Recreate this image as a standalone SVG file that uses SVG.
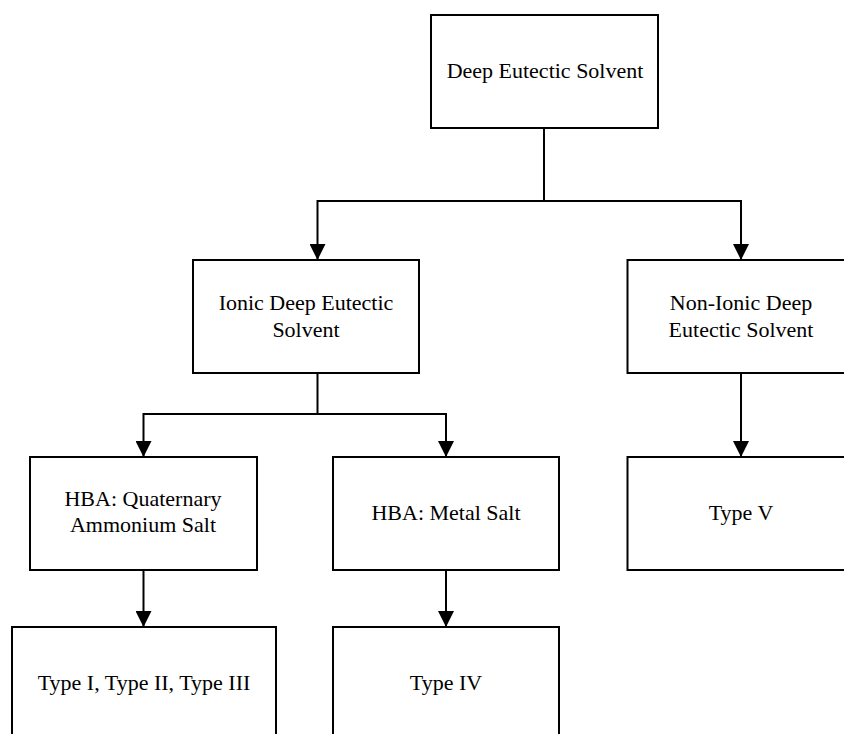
<svg xmlns="http://www.w3.org/2000/svg" width="844" height="734" viewBox="0 0 844 734">
  <style>
    .box { fill: #ffffff; stroke: #000000; stroke-width: 2; }
    .lbl { font-family: "Liberation Serif", "Times New Roman", serif; font-size: 22px; fill: #000000; text-anchor: middle; }
    .link { fill: none; stroke: #000000; stroke-width: 2; marker-end: url(#arrow); }
  </style>
  <defs>
    <marker id="arrow" markerUnits="userSpaceOnUse" viewBox="0 0 16 16" markerWidth="16" markerHeight="16" refX="16" refY="8" orient="auto">
      <path d="M0,0 L16,8 L0,16 z" fill="#000000"/>
    </marker>
  </defs>
  <rect width="844" height="734" fill="#ffffff"/>

  <g id="connectors">
    <path class="link" d="M544,128 V201 H317.5 V260"/>
    <path class="link" d="M544,201 H741 V260"/>
    <path class="link" d="M317.5,373 V414 H143.5 V457"/>
    <path class="link" d="M317.5,414 H446 V457"/>
    <path class="link" d="M741,373 V457"/>
    <path class="link" d="M143.5,570 V627"/>
    <path class="link" d="M446,570 V627"/>
  </g>

  <g id="des">
    <rect class="box" x="431" y="15" width="227" height="113"/>
    <text class="lbl" x="545" y="78">Deep Eutectic Solvent</text>
  </g>

  <g id="ionic-des">
    <rect class="box" x="193" y="260" width="226" height="113"/>
    <text class="lbl" x="306" y="310">Ionic Deep Eutectic</text>
    <text class="lbl" x="306" y="336.5">Solvent</text>
  </g>

  <g id="non-ionic-des">
    <rect class="box" x="627.5" y="260" width="227" height="113"/>
    <text class="lbl" x="741" y="310">Non-Ionic Deep</text>
    <text class="lbl" x="741" y="336.5">Eutectic Solvent</text>
  </g>

  <g id="hba-quaternary">
    <rect class="box" x="30" y="457" width="227" height="113"/>
    <text class="lbl" x="143" y="505.5">HBA: Quaternary</text>
    <text class="lbl" x="143" y="531.5">Ammonium Salt</text>
  </g>

  <g id="hba-metal">
    <rect class="box" x="333" y="457" width="226" height="113"/>
    <text class="lbl" x="446" y="520">HBA: Metal Salt</text>
  </g>

  <g id="type-v">
    <rect class="box" x="627.5" y="457" width="227" height="113"/>
    <text class="lbl" x="741" y="520">Type V</text>
  </g>

  <g id="type-i-ii-iii">
    <rect class="box" x="12" y="627" width="264" height="120"/>
    <text class="lbl" x="144" y="690">Type I, Type II, Type III</text>
  </g>

  <g id="type-iv">
    <rect class="box" x="333" y="627" width="226" height="120"/>
    <text class="lbl" x="446" y="690">Type IV</text>
  </g>
</svg>
